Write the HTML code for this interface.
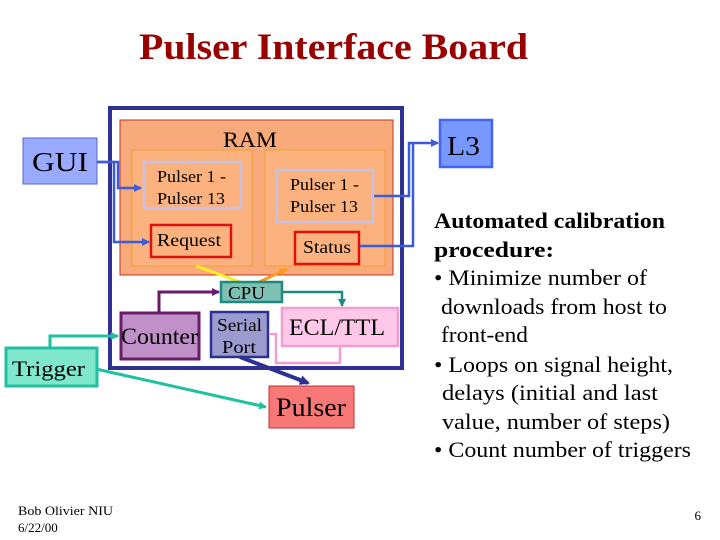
<!DOCTYPE html>
<html><head><meta charset="utf-8"><style>
body{margin:0;width:720px;height:540px;background:#fff;overflow:hidden}
svg{position:absolute;left:0;top:0}
.t{font-family:"Liberation Serif",serif}
</style></head><body>
<svg width="720" height="540" viewBox="0 0 720 540">
<defs>
<marker id="a" markerWidth="8" markerHeight="8" refX="7" refY="4" orient="auto" markerUnits="userSpaceOnUse"><path d="M0,0 L8,4 L0,8z" fill="#ff9922"/></marker>
<marker id="ab" markerWidth="8" markerHeight="8" refX="7" refY="4" orient="auto" markerUnits="userSpaceOnUse"><path d="M0,0 L8,4 L0,8z" fill="#3b5bdb"/></marker>
<marker id="ag" markerWidth="8" markerHeight="8" refX="7" refY="4" orient="auto" markerUnits="userSpaceOnUse"><path d="M0,0 L8,4 L0,8z" fill="#20c0a0"/></marker>
<marker id="ap" markerWidth="8" markerHeight="8" refX="7" refY="4" orient="auto" markerUnits="userSpaceOnUse"><path d="M0,0 L8,4 L0,8z" fill="#6a1a6a"/></marker>
<marker id="at" markerWidth="8" markerHeight="8" refX="7" refY="4" orient="auto" markerUnits="userSpaceOnUse"><path d="M0,0 L8,4 L0,8z" fill="#1e8a80"/></marker>
<marker id="an" markerWidth="10" markerHeight="10" refX="8" refY="5" orient="auto" markerUnits="userSpaceOnUse"><path d="M0,0 L10,5 L0,10z" fill="#2e3192"/></marker>
</defs>
<text x="139" y="59" textLength="389" lengthAdjust="spacingAndGlyphs" class="t" font-size="37" font-weight="bold" fill="#990000">Pulser Interface Board</text>
<rect x="110" y="108" width="292" height="260" fill="#fff" stroke="#2e3192" stroke-width="4"/>
<rect x="120" y="120" width="273" height="155" fill="#f8aa7a" stroke="#c03020" stroke-width="1"/>
<text x="223" y="147" textLength="54" lengthAdjust="spacingAndGlyphs" class="t" font-size="22">RAM</text>
<rect x="132" y="150" width="120" height="116" fill="#fbb27e" stroke="#f0a030" stroke-width="1"/>
<rect x="265" y="150" width="120" height="116" fill="#fbb27e" stroke="#f0a030" stroke-width="1"/>
<rect x="144" y="162" width="97" height="46" fill="#fbb27e" stroke="#c8c0e0" stroke-width="2.5"/>
<text x="157" y="182" textLength="69" lengthAdjust="spacingAndGlyphs" class="t" font-size="17">Pulser 1 -</text>
<text x="157" y="204" textLength="68" lengthAdjust="spacingAndGlyphs" class="t" font-size="17">Pulser 13</text>
<rect x="277" y="170" width="96" height="52" fill="#fbb27e" stroke="#c8c0e0" stroke-width="2.5"/>
<text x="290" y="190" textLength="69" lengthAdjust="spacingAndGlyphs" class="t" font-size="17">Pulser 1 -</text>
<text x="290" y="212" textLength="68" lengthAdjust="spacingAndGlyphs" class="t" font-size="17">Pulser 13</text>
<rect x="151" y="225" width="80" height="32" fill="#fbb27e" stroke="#dd1111" stroke-width="2.5"/>
<text x="157" y="246" textLength="64" lengthAdjust="spacingAndGlyphs" class="t" font-size="18">Request</text>
<rect x="295" y="232" width="64" height="32" fill="#fbb27e" stroke="#dd1111" stroke-width="2.5"/>
<text x="303" y="253" textLength="48" lengthAdjust="spacingAndGlyphs" class="t" font-size="18">Status</text>
<rect x="23" y="138" width="74" height="46" fill="#99aaff" stroke="#5566cc" stroke-width="1"/>
<text x="32" y="171" textLength="56" lengthAdjust="spacingAndGlyphs" class="t" font-size="27">GUI</text>
<polyline points="97,162 118,162 118,188 141,188" fill="none" stroke="#3b5bdb" stroke-width="2.5" marker-end="url(#ab)"/>
<polyline points="97,162 114,162 114,242 149,242" fill="none" stroke="#3b5bdb" stroke-width="2.5" marker-end="url(#ab)"/>
<rect x="440" y="120" width="52" height="47" fill="#7799ff" stroke="#4466ee" stroke-width="2.5"/>
<text x="447" y="155" textLength="33" lengthAdjust="spacingAndGlyphs" class="t" font-size="27">L3</text>
<polyline points="374,196 409,196 409,143 438,143" fill="none" stroke="#3b5bdb" stroke-width="2.5" marker-end="url(#ab)"/>
<polyline points="360,246 413,246 413,143" fill="none" stroke="#3b5bdb" stroke-width="2.5"/>
<line x1="196" y1="266" x2="243" y2="283" stroke="#ffee22" stroke-width="3"/>
<line x1="257" y1="283" x2="287" y2="269" stroke="#ff9922" stroke-width="3" marker-end="url(#a)"/>
<rect x="221" y="282" width="61" height="20" fill="#7fc0b4" stroke="#1e8a80" stroke-width="2.5"/>
<text x="228" y="299" textLength="37" lengthAdjust="spacingAndGlyphs" class="t" font-size="18">CPU</text>
<polyline points="282,292 342,292 342,306" fill="none" stroke="#1e8a80" stroke-width="2.5" marker-end="url(#at)"/>
<polyline points="159,313 159,292 219,292" fill="none" stroke="#6a1a6a" stroke-width="3" marker-end="url(#ap)"/>
<rect x="121" y="313" width="78" height="46" fill="#c090c8" stroke="#6a1a6a" stroke-width="3"/>
<text x="121" y="344" textLength="77" lengthAdjust="spacingAndGlyphs" class="t" font-size="23">Counter</text>
<rect x="211" y="312" width="57" height="45" fill="#9b9bd0" stroke="#2e3192" stroke-width="2.5"/>
<text x="217" y="331" textLength="45" lengthAdjust="spacingAndGlyphs" class="t" font-size="18">Serial</text>
<text x="222" y="353" textLength="34" lengthAdjust="spacingAndGlyphs" class="t" font-size="18">Port</text>
<polyline points="340,346 340,363 276,363 276,334 270,334" fill="none" stroke="#f0a0d0" stroke-width="2.5"/>
<rect x="282" y="308" width="116" height="38" fill="#ffc8e8" stroke="#f0a0d0" stroke-width="2.5"/>
<text x="289" y="335" textLength="96" lengthAdjust="spacingAndGlyphs" class="t" font-size="23">ECL/TTL</text>
<line x1="240" y1="357" x2="308" y2="383" stroke="#2e3192" stroke-width="4" marker-end="url(#an)"/>
<rect x="269" y="386" width="85" height="42" fill="#f87878" stroke="#c03030" stroke-width="1"/>
<text x="276" y="416" textLength="70" lengthAdjust="spacingAndGlyphs" class="t" font-size="26">Pulser</text>
<rect x="6" y="348" width="91" height="38" fill="#80e8cc" stroke="#20c0a0" stroke-width="3"/>
<text x="12" y="376" textLength="73" lengthAdjust="spacingAndGlyphs" class="t" font-size="22">Trigger</text>
<polyline points="50,348 50,336 118,336" fill="none" stroke="#20c0a0" stroke-width="3" marker-end="url(#ag)"/>
<line x1="96" y1="369" x2="266" y2="407" stroke="#20c0a0" stroke-width="3" marker-end="url(#ag)"/>
<g class="t" font-size="22">
<text x="434" y="228" font-weight="bold" textLength="231" lengthAdjust="spacingAndGlyphs">Automated calibration</text>
<text x="434" y="257" font-weight="bold" textLength="120" lengthAdjust="spacingAndGlyphs">procedure:</text>
<text x="434" y="285" textLength="213" lengthAdjust="spacingAndGlyphs">• Minimize number of</text>
<text x="441" y="314" textLength="226" lengthAdjust="spacingAndGlyphs">downloads from host to</text>
<text x="441" y="342" textLength="87" lengthAdjust="spacingAndGlyphs">front-end</text>
<text x="434" y="372" textLength="239" lengthAdjust="spacingAndGlyphs">• Loops on signal height,</text>
<text x="442" y="400" textLength="216" lengthAdjust="spacingAndGlyphs">delays (initial and last</text>
<text x="442" y="429" textLength="228" lengthAdjust="spacingAndGlyphs">value, number of steps)</text>
<text x="434" y="457" textLength="257" lengthAdjust="spacingAndGlyphs">• Count number of triggers</text>
</g>
<text x="18" y="515" textLength="95" lengthAdjust="spacingAndGlyphs" class="t" font-size="13">Bob Olivier NIU</text>
<text x="18" y="532" class="t" font-size="13">6/22/00</text>
<text x="701" y="520" text-anchor="end" class="t" font-size="13">6</text>
</svg>
</body></html>
